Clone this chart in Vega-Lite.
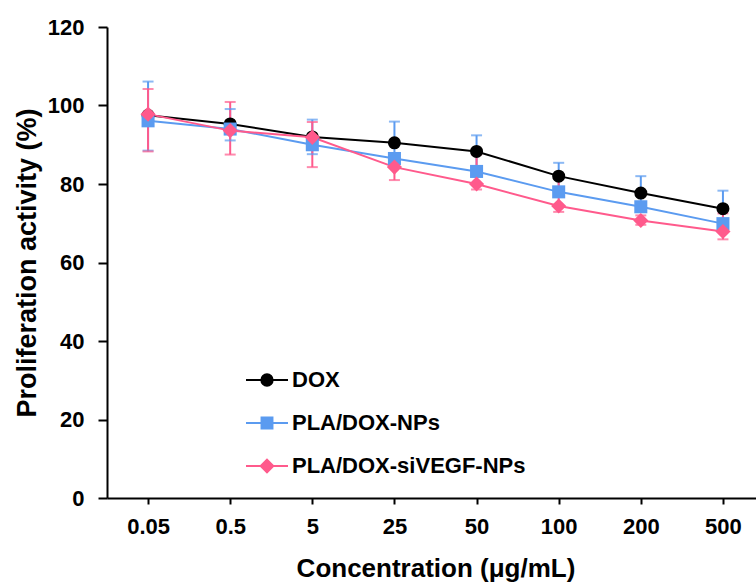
{
  "$schema": "https://vega.github.io/schema/vega-lite/v6.json",
  "width": 657,
  "height": 471,
  "autosize": {"type": "none"},
  "padding": {"left": 107, "top": 27, "right": 0, "bottom": 85},
  "background": "white",
  "config": {"view": {"stroke": null}, "font": "Liberation Sans", "axis": {"grid": false}},
  "data": {
    "values": [
      {"conc": "0.05", "series": "DOX", "value": 97.5},
      {"conc": "0.5", "series": "DOX", "value": 95.3},
      {"conc": "5", "series": "DOX", "value": 92.0},
      {"conc": "25", "series": "DOX", "value": 90.5},
      {"conc": "50", "series": "DOX", "value": 88.3},
      {"conc": "100", "series": "DOX", "value": 82.0},
      {"conc": "200", "series": "DOX", "value": 77.7},
      {"conc": "500", "series": "DOX", "value": 73.7},
      {"conc": "0.05", "series": "PLA/DOX-NPs", "value": 96.1, "lo": 88.5, "hi": 106.1},
      {"conc": "0.5", "series": "PLA/DOX-NPs", "value": 94.0, "lo": 91.1, "hi": 99.1},
      {"conc": "5", "series": "PLA/DOX-NPs", "value": 90.0, "lo": 87.6, "hi": 96.4},
      {"conc": "25", "series": "PLA/DOX-NPs", "value": 86.5, "lo": 86.5, "hi": 95.9},
      {"conc": "50", "series": "PLA/DOX-NPs", "value": 83.2, "lo": 83.2, "hi": 92.4},
      {"conc": "100", "series": "PLA/DOX-NPs", "value": 78.0, "lo": 78.0, "hi": 85.4},
      {"conc": "200", "series": "PLA/DOX-NPs", "value": 74.2, "lo": 74.2, "hi": 82.0},
      {"conc": "500", "series": "PLA/DOX-NPs", "value": 69.9, "lo": 69.9, "hi": 78.3},
      {"conc": "0.05", "series": "PLA/DOX-siVEGF-NPs", "value": 97.8, "lo": 88.3, "hi": 104.2},
      {"conc": "0.5", "series": "PLA/DOX-siVEGF-NPs", "value": 93.6, "lo": 87.5, "hi": 100.9},
      {"conc": "5", "series": "PLA/DOX-siVEGF-NPs", "value": 91.9, "lo": 84.3, "hi": 95.8},
      {"conc": "25", "series": "PLA/DOX-siVEGF-NPs", "value": 84.3, "lo": 81.0, "hi": 87.6},
      {"conc": "50", "series": "PLA/DOX-siVEGF-NPs", "value": 80.0, "lo": 78.6, "hi": 87.5},
      {"conc": "100", "series": "PLA/DOX-siVEGF-NPs", "value": 74.4, "lo": 72.9, "hi": 82.0},
      {"conc": "200", "series": "PLA/DOX-siVEGF-NPs", "value": 70.7, "lo": 69.6, "hi": 72.0},
      {"conc": "500", "series": "PLA/DOX-siVEGF-NPs", "value": 67.9, "lo": 65.9, "hi": 72.5}
    ]
  },
  "encoding": {
    "x": {
      "field": "conc",
      "type": "ordinal",
      "scale": {"type": "point", "padding": 0.5, "domain": ["0.05", "0.5", "5", "25", "50", "100", "200", "500"]},
      "axis": {
        "title": "Concentration (μg/mL)",
        "labelAngle": 0,
        "labelFontSize": 22,
        "labelFontWeight": "bold",
        "labelColor": "black",
        "labelPadding": 12,
        "tickSize": 6,
        "tickWidth": 2,
        "tickColor": "black",
        "domainColor": "black",
        "domainWidth": 2,
        "titleFontSize": 26,
        "titleFontWeight": "bold",
        "titleColor": "black",
        "titlePadding": 18
      }
    }
  },
  "layer": [
    {
      "mark": {"type": "line", "strokeWidth": 2},
      "encoding": {
        "y": {
          "field": "value",
          "type": "quantitative",
          "title": "Proliferation activity (%)",
          "scale": {"domain": [0, 120], "nice": false},
          "axis": {
            "values": [0, 20, 40, 60, 80, 100, 120],
            "tickSize": 9,
            "tickWidth": 2,
            "tickColor": "black",
            "domainColor": "black",
            "domainWidth": 2,
            "labelFontSize": 22,
            "labelFontWeight": "bold",
            "labelColor": "black",
            "labelPadding": 14,
            "titleFontSize": 27,
            "titleFontWeight": "bold",
            "titleColor": "black",
            "titlePadding": 6
          }
        },
        "color": {
          "field": "series",
          "type": "nominal",
          "scale": {"domain": ["DOX", "PLA/DOX-NPs", "PLA/DOX-siVEGF-NPs"], "range": ["#000000", "#5b9bf0", "#ff5a8c"]},
          "legend": {
            "orient": "none",
            "legendX": 138,
            "legendY": 331,
            "title": null,
            "padding": 0,
            "rowPadding": 10,
            "symbolSize": 1764,
            "symbolStrokeWidth": 2,
            "labelFontSize": 22,
            "labelFontWeight": "bold",
            "labelColor": "black",
            "labelOffset": 3,
            "labelLimit": 500,
            "encode": {
              "symbols": {
                "update": {
                  "shape": {"signal": "datum.value === 'DOX' ? 'M-1,0L1,0M0.27,0A0.27,0.27,0,1,1,-0.27,0A0.27,0.27,0,1,1,0.27,0Z' : datum.value === 'PLA/DOX-NPs' ? 'M-1,0L1,0M-0.26,-0.26L0.26,-0.26L0.26,0.26L-0.26,0.26Z' : 'M-1,0L1,0M0,-0.3L0.3,0L0,0.3L-0.3,0Z'"},
                  "fill": {"signal": "scale('color', datum.value)"},
                  "stroke": {"signal": "scale('color', datum.value)"},
                  "strokeWidth": {"value": 2},
                  "opacity": {"value": 1},
                  "size": {"value": 1764}
                }
              }
            }
          }
        },
        "order": {"value": null}
      }
    },
    {
      "mark": {"type": "rule", "strokeWidth": 2},
      "encoding": {
        "y": {"field": "lo", "type": "quantitative", "title": "Proliferation activity (%)"},
        "y2": {"field": "hi"},
        "color": {"field": "series", "type": "nominal", "legend": null}
      }
    },
    {
      "mark": {"type": "tick", "size": 11, "thickness": 2},
      "encoding": {
        "y": {"field": "lo", "type": "quantitative", "title": "Proliferation activity (%)"},
        "color": {"field": "series", "type": "nominal", "legend": null}
      }
    },
    {
      "mark": {"type": "tick", "size": 11, "thickness": 2},
      "encoding": {
        "y": {"field": "hi", "type": "quantitative", "title": "Proliferation activity (%)"},
        "color": {"field": "series", "type": "nominal", "legend": null}
      }
    },
    {
      "transform": [{"filter": "datum.series === 'DOX'"}],
      "mark": {"type": "point", "filled": true, "opacity": 1, "strokeWidth": 0, "shape": "circle", "size": 170},
      "encoding": {
        "y": {"field": "value", "type": "quantitative", "title": "Proliferation activity (%)"},
        "color": {"field": "series", "type": "nominal", "legend": null}
      }
    },
    {
      "transform": [{"filter": "datum.series === 'PLA/DOX-NPs'"}],
      "mark": {"type": "point", "filled": true, "opacity": 1, "strokeWidth": 0, "shape": "square", "size": 170},
      "encoding": {
        "y": {"field": "value", "type": "quantitative", "title": "Proliferation activity (%)"},
        "color": {"field": "series", "type": "nominal", "legend": null}
      }
    },
    {
      "transform": [{"filter": "datum.series === 'PLA/DOX-siVEGF-NPs'"}],
      "mark": {"type": "point", "filled": true, "opacity": 1, "strokeWidth": 0, "shape": "diamond", "size": 230},
      "encoding": {
        "y": {"field": "value", "type": "quantitative", "title": "Proliferation activity (%)"},
        "color": {"field": "series", "type": "nominal", "legend": null}
      }
    }
  ]
}
